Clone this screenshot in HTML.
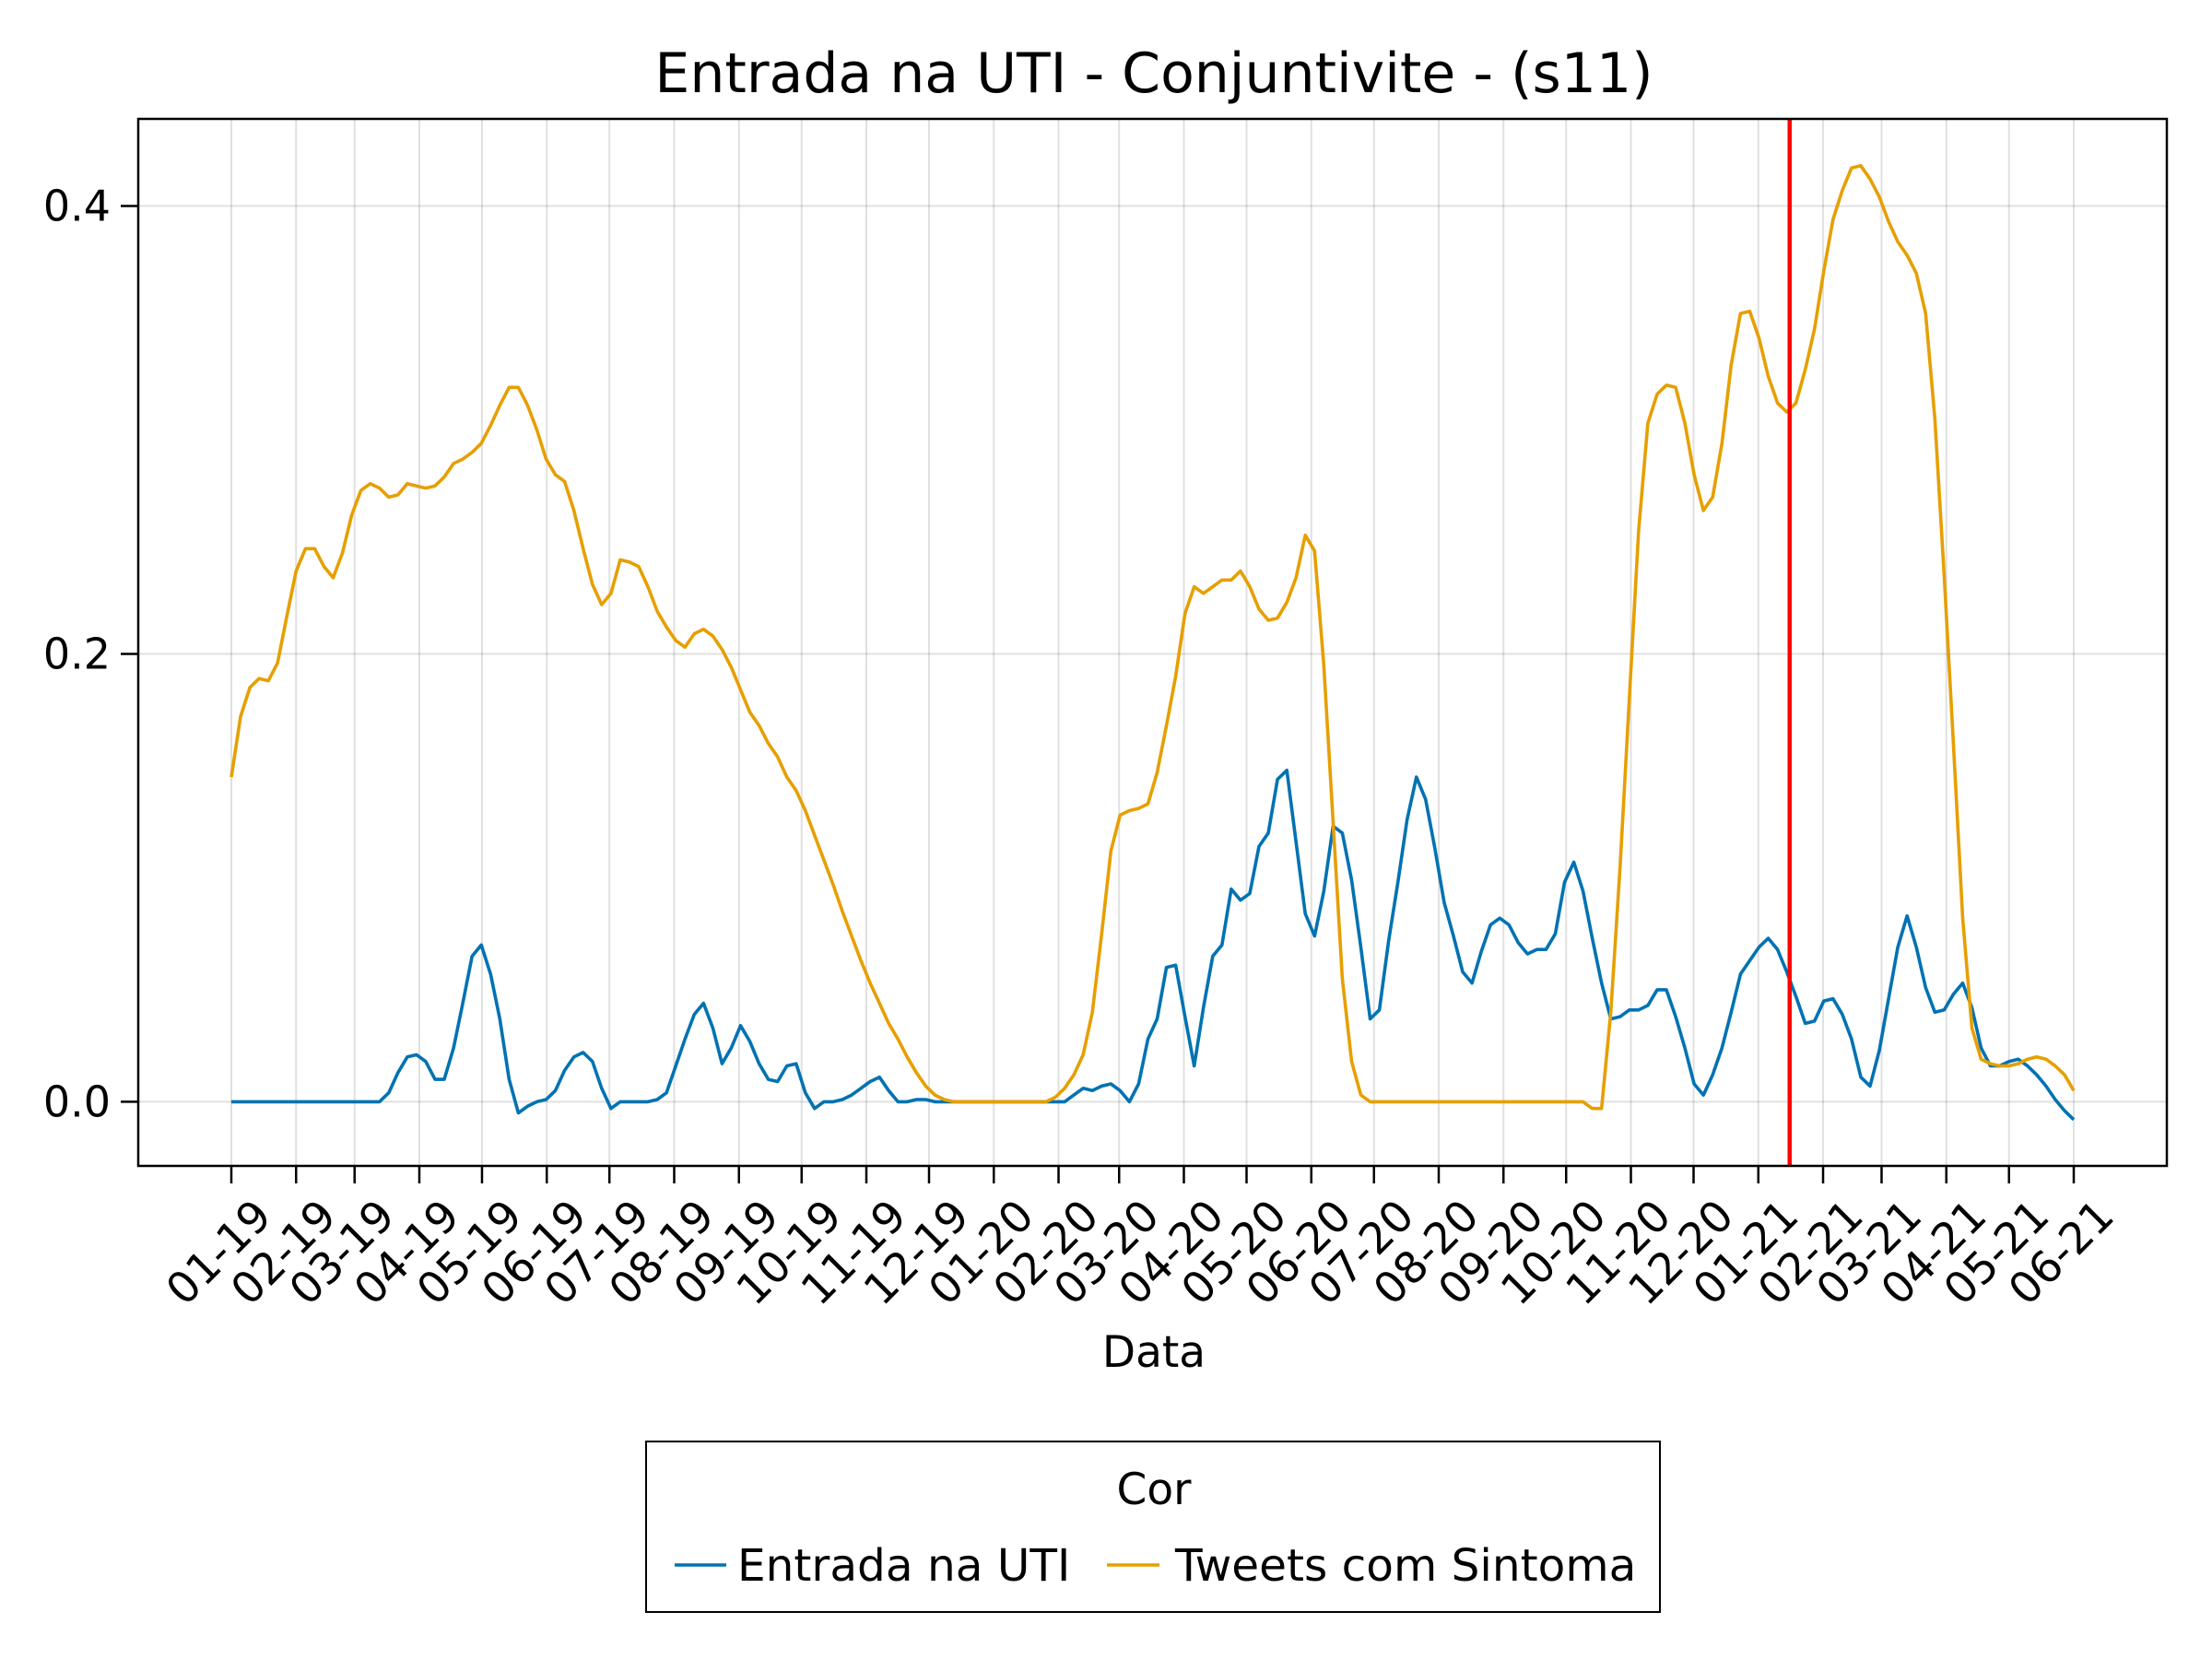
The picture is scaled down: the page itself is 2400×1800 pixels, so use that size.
<!DOCTYPE html>
<html><head><meta charset="utf-8"><style>
html,body{margin:0;padding:0;background:#fff}
svg{display:block}
text{font-family:"DejaVu Sans","Liberation Sans",sans-serif;fill:#000}
</style></head><body>
<svg id="chart" width="2400" height="1800" viewBox="0 0 2400 1800" xmlns="http://www.w3.org/2000/svg">
<rect width="2400" height="1800" fill="#fff"/>
<text x="1252" y="100" font-size="60" text-anchor="middle">Entrada na UTI - Conjuntivite - (s11)</text>
<g id="grid"></g>
<g id="series"></g>
<rect x="150" y="129" width="2201" height="1136" fill="none" stroke="#000" stroke-width="2.5"/>
<g id="axes"></g>
<text x="1252" y="1483" font-size="47" text-anchor="middle">Data</text>
<g>
<rect x="701" y="1564" width="1100" height="185" fill="#fff" stroke="#000" stroke-width="2"/>
<text x="1252" y="1632" font-size="47" text-anchor="middle">Cor</text>
<g>
<line x1="732" y1="1698" x2="788" y2="1698" stroke="#0072b2" stroke-width="3.5"/>
<text x="800" y="1715" font-size="48.5">Entrada na UTI</text>
</g>
<g>
<line x1="1201" y1="1698" x2="1258" y2="1698" stroke="#e69f00" stroke-width="3.5"/>
<text x="1275" y="1715" font-size="48.5">Tweets com Sintoma</text>
</g>
</g>
</svg>
<script>
const tickLabels = ["01-19","02-19","03-19","04-19","05-19","06-19","07-19","08-19","09-19","10-19","11-19","12-19","01-20","02-20","03-20","04-20","05-20","06-20","07-20","08-20","09-20","10-20","11-20","12-20","01-21","02-21","03-21","04-21","05-21","06-21"];
const tickDays = [0,31,59,90,120,151,181,212,243,273,304,334,365,396,425,456,486,517,547,578,609,639,670,700,731,762,790,821,851,882];
const yTicks = [0,0.2,0.4];
const yTickLabels = ["0.0","0.2","0.4"];
const markerDay = 746;
const tweets = [.145,.172,.185,.189,.188,.196,.217,.237,.247,.247,.239,.234,.245,.262,.273,.276,.274,.270,.271,.276,.275,.274,.275,.279,.285,.287,.290,.294,.302,.311,.319,.319,.311,.300,.287,.280,.277,.264,.247,.231,.222,.227,.242,.241,.239,.230,.219,.212,.206,.203,.209,.211,.208,.202,.194,.184,.174,.168,.160,.154,.145,.139,.130,.119,.108,.097,.085,.074,.063,.053,.044,.035,.028,.020,.013,.007,.003,.001,0,0,0,0,0,0,0,0,0,0,0,.002,.006,.012,.021,.040,.075,.112,.128,.130,.131,.133,.147,.168,.190,.218,.230,.227,.230,.233,.233,.237,.230,.220,.215,.216,.223,.234,.253,.246,.195,.125,.055,.018,.003,0,0,0,0,0,0,0,0,0,0,0,0,0,0,0,0,0,0,0,0,0,0,0,0,-.003,-.003,.040,.105,.180,.255,.303,.316,.320,.319,.303,.280,.264,.270,.294,.329,.352,.353,.341,.324,.312,.308,.312,.327,.345,.371,.394,.407,.417,.418,.412,.404,.393,.384,.378,.370,.352,.305,.235,.160,.082,.033,.019,.017,.016,.016,.017,.019,.020,.019,.016,.012,.005];
const uti = [0,0,0,0,0,0,0,0,0,0,0,0,0,0,0,0,0,.004,.013,.020,.021,.018,.010,.010,.024,.044,.065,.070,.057,.037,.010,-.005,-.002,0,.001,.005,.014,.020,.022,.018,.006,-.003,0,0,0,0,.001,.004,.016,.028,.039,.044,.033,.017,.024,.034,.027,.017,.010,.009,.016,.017,.004,-.003,0,0,.001,.003,.006,.009,.011,.005,0,0,.001,.001,0,0,0,0,0,0,0,0,0,0,0,0,0,0,0,.003,.006,.005,.007,.008,.005,0,.008,.028,.037,.060,.061,.038,.016,.042,.065,.070,.095,.090,.093,.114,.120,.144,.148,.116,.084,.074,.094,.123,.120,.099,.069,.037,.041,.072,.098,.126,.145,.135,.113,.089,.074,.058,.053,.067,.079,.082,.079,.071,.066,.068,.068,.075,.098,.107,.094,.073,.053,.037,.038,.041,.041,.043,.050,.050,.038,.024,.008,.003,.012,.024,.040,.057,.063,.069,.073,.068,.058,.047,.035,.036,.045,.046,.039,.028,.011,.007,.023,.046,.069,.083,.069,.051,.040,.041,.048,.053,.042,.024,.016,.016,.018,.019,.016,.012,.007,.001,-.004,-.008];

const NS = "http://www.w3.org/2000/svg";
const X0 = 251, X1 = 2250, LASTDAY = 882;
const Y0 = 1195.4, YSCALE = 2429.75;
function xScale(day){ return X0 + day * (X1 - X0) / LASTDAY; }
function yScale(v){ return Y0 - v * YSCALE; }
function mk(tag, attrs, parent){ const e = document.createElementNS(NS, tag); for (const k in attrs) e.setAttribute(k, attrs[k]); parent.appendChild(e); return e; }
const grid = document.getElementById('grid');
const axes = document.getElementById('axes');
const series = document.getElementById('series');

tickDays.forEach((d, i) => {
  const x = xScale(d);
  const gl = mk('line', {x1:x, y1:129, x2:x, y2:1265, stroke:'#000', 'stroke-opacity':0.12, 'stroke-width':2}, grid);
  
  
  const tk = mk('line', {x1:x, y1:1265, x2:x, y2:1284, stroke:'#000', 'stroke-width':2.5}, axes);
  
  
  const t = mk('text', {x:0, y:0, 'font-size':47, 'text-anchor':'end', transform:'translate(' + (x + 46) + ',1322) rotate(-45)'}, axes);
  t.textContent = tickLabels[i];
  
  
});
yTicks.forEach((v, i) => {
  const y = yScale(v);
  const gl = mk('line', {x1:150, y1:y, x2:2351, y2:y, stroke:'#000', 'stroke-opacity':0.12, 'stroke-width':2}, grid);
  
  
  const tk = mk('line', {x1:131, y1:y, x2:150, y2:y, stroke:'#000', 'stroke-width':2.5}, axes);
  
  
  const t = mk('text', {x:120, y:y + 16, 'font-size':46, 'text-anchor':'end'}, axes);
  t.textContent = yTickLabels[i];
  
  
});
function drawSeries(vals, color, name){
  const n = vals.length;
  const pts = vals.map((v, i) => xScale(i * LASTDAY / (n - 1)).toFixed(1) + ',' + yScale(v).toFixed(1)).join(' ');
  const p = mk('polyline', {points:pts, fill:'none', stroke:color, 'stroke-width':3.6, 'stroke-linejoin':'round'}, series);
  
  
}
drawSeries(uti, '#0072b2', 'uti-line');
drawSeries(tweets, '#e69f00', 'tweets-line');
const mx = xScale(markerDay);
const red = mk('line', {x1:mx, y1:129, x2:mx, y2:1265, stroke:'#ff0000', 'stroke-width':4.5}, series);


</script>
</body></html>
